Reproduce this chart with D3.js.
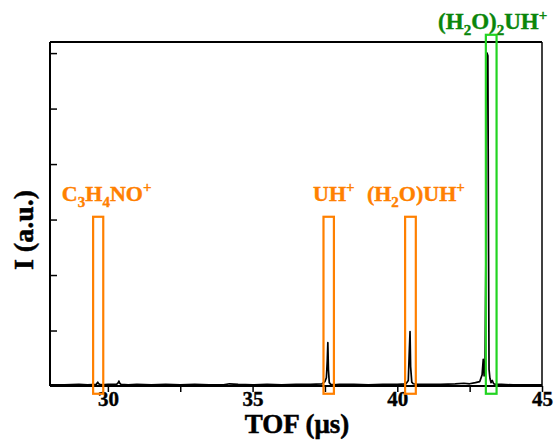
<!DOCTYPE html>
<html>
<head>
<meta charset="utf-8">
<script src="https://cdn.jsdelivr.net/npm/d3@7"></script>
<style>
  body { margin: 0; background: #fff; }
  svg { display: block; }
  text { font-family: "Liberation Serif", serif; font-weight: bold; }
</style>
</head>
<body>
<svg id="chart" width="556" height="447"></svg>
<script>
// ---- data ----
const tof = [28.0, 28.5, 29.0, 29.3, 29.6, 29.65, 29.68, 29.72, 29.8, 30.0, 30.3, 30.36, 30.38, 30.41, 30.45, 30.7,
  31.0, 31.5, 32.0, 32.5, 33.0, 33.5, 34.0, 34.2, 34.5, 35.0, 35.5, 36.0, 36.5, 37.0, 37.4, 37.5, 37.55,
  37.58, 37.6, 37.62, 37.65, 37.7, 37.8, 38.0, 38.5, 39.0, 39.5, 40.0, 40.3, 40.38, 40.41, 40.44, 40.46,
  40.5, 40.55, 40.7, 41.0, 41.5, 42.0, 42.3, 42.5, 42.7, 42.85, 42.93, 42.97, 43.0, 43.03, 43.06, 43.08,
  43.1, 43.13, 43.15, 43.17, 43.2, 43.24, 43.28, 43.33, 43.4, 43.6, 44.0, 44.5, 45.0];
const intensity = [0.02, 0.02, 0.03, 0.02, 0.03, 0.07, 0.04, 0.03, 0.02, 0.03, 0.03, 0.06, 0.09, 0.05, 0.03, 0.02,
  0.03, 0.02, 0.03, 0.02, 0.03, 0.02, 0.02, 0.04, 0.03, 0.02, 0.03, 0.02, 0.03, 0.03, 0.04, 0.08, 0.15,
  0.45, 0.78, 0.3, 0.06, 0.03, 0.02, 0.03, 0.03, 0.02, 0.03, 0.03, 0.04, 0.10, 0.55, 0.98, 0.35,
  0.07, 0.04, 0.03, 0.03, 0.03, 0.04, 0.05, 0.04, 0.06, 0.08, 0.20, 0.48, 0.18, 0.30, 2.2, 6.01,
  6.0, 5.95, 2.8, 0.30, 0.14, 0.06, 0.10, 0.04, 0.03, 0.03, 0.02, 0.02, 0.02];

const xDomain = [28, 45];
const yDomain = [0, 6.2];
const xTicks = [30, 32.5, 35, 37.5, 40, 42.5, 45];
const xTickLabels = [30, 35, 40, 45];
const yTicks = [1, 2, 3, 4, 5, 6];

// annotation boxes: [tofStart, tofEnd], [intensityBottom, intensityTop]
const boxNames = ["C3H4NO+", "UH+", "(H2O)UH+", "(H2O)2UH+"];
const boxTof = [[29.49, 29.84], [37.45, 37.81], [40.27, 40.64], [43.06, 43.43]];
const boxIntensity = [[-0.14, 3.05], [-0.14, 3.05], [-0.14, 3.05], [-0.14, 6.33]];
const boxKind = ["orange", "orange", "orange", "green"];
// label start positions (tof) and heights (intensity units)
const labelTof = [28.41, 37.09, 38.95, 41.41];
const labelIntensity = [3.33, 3.33, 3.33, 6.43];
// label pieces: [text, kind] where kind: n normal, b sub, p sup
const labelParts = [
  [["C", "n"], ["3", "b"], ["H", "n"], ["4", "b"], ["NO", "n"], ["+", "p"]],
  [["UH", "n"], ["+", "p"]],
  [["(H", "n"], ["2", "b"], ["O)UH", "n"], ["+", "p"]],
  [["(H", "n"], ["2", "b"], ["O)", "n"], ["2", "b"], ["UH", "n"], ["+", "p"]]
];

// ---- drawing ----
const svg = d3.select("#chart");
const L = 50, R = 542, T = 42, B = 386;
const x = d3.scaleLinear().domain(xDomain).range([L, R]);
const y = d3.scaleLinear().domain(yDomain).range([B, T]);

const colors = {
  orange: { box: "#ff8000", text: "#ff8000" },
  green: { box: "#22d422", text: "#0a860a" }
};

// spectrum
const pts = tof.map((t, i) => [t, intensity[i]]);
svg.append("path")
  .datum(pts)
  .attr("fill", "none")
  .attr("stroke", "#000")
  .attr("stroke-width", 1.7)
  .attr("stroke-linejoin", "round")
  .attr("d", d3.line().x(d => x(d[0])).y(d => y(d[1])));

// frame top & right
svg.append("line").attr("x1", L).attr("x2", R).attr("y1", T).attr("y2", T)
  .attr("stroke", "#000").attr("stroke-width", 2);
svg.append("line").attr("x1", R).attr("x2", R).attr("y1", T).attr("y2", B)
  .attr("stroke", "#000").attr("stroke-width", 1.5);

// x axis
const xAxis = d3.axisBottom(x).tickValues(xTicks).tickSize(6).tickSizeOuter(0)
  .tickFormat(d => xTickLabels.includes(d) ? d : "");
const gx = svg.append("g").attr("transform", `translate(0,${B})`).call(xAxis);
gx.select(".domain").attr("stroke-width", 2).attr("d", `M${L},0H${R}`);
gx.selectAll(".tick line").attr("stroke-width", 1.5);
gx.selectAll(".tick text").attr("font-size", 21).attr("fill", "#000")
  .attr("stroke", "#000").attr("stroke-width", 0.4)
  .attr("font-family", "Liberation Serif").attr("font-weight", "bold").attr("dy", "0.6em").attr("y", 7);

// y axis (inward ticks, no labels)
const yAxis = d3.axisLeft(y).tickValues(yTicks).tickSize(-7).tickSizeOuter(0).tickFormat("");
const gy = svg.append("g").attr("transform", `translate(${L},0)`).call(yAxis);
gy.select(".domain").attr("stroke-width", 2).attr("d", `M0,${B}V${T}`);
gy.selectAll(".tick line").attr("stroke-width", 1.5);

// boxes
boxTof.forEach((bt, i) => {
  const c = colors[boxKind[i]];
  svg.append("rect")
    .attr("x", x(bt[0])).attr("width", x(bt[1]) - x(bt[0]))
    .attr("y", y(boxIntensity[i][1])).attr("height", y(boxIntensity[i][0]) - y(boxIntensity[i][1]))
    .attr("fill", "none").attr("stroke", c.box).attr("stroke-width", 2.2);
});

// labels
labelParts.forEach((parts, i) => {
  const c = colors[boxKind[i]];
  const t = svg.append("text")
    .attr("x", x(labelTof[i])).attr("y", y(labelIntensity[i]))
    .attr("font-size", i === 3 ? 23 : 22).attr("fill", c.text)
    .attr("stroke", c.text).attr("stroke-width", 0.4);
  let prev = "n";
  parts.forEach(([s, k]) => {
    const ts = t.append("tspan").text(s);
    const off = { n: 0, b: 6, p: -9 };
    ts.attr("dy", off[k] - off[prev]);
    if (k !== "n") ts.attr("font-size", 15);
    prev = k;
  });
});

// axis titles
svg.append("text").attr("x", 297).attr("y", 433).attr("text-anchor", "middle")
  .attr("stroke", "#000").attr("stroke-width", 0.5)
  .attr("font-size", 27).text("TOF (μs)");
svg.append("text").attr("transform", "translate(33,230) rotate(-90)").attr("text-anchor", "middle")
  .attr("stroke", "#000").attr("stroke-width", 0.5)
  .attr("font-size", 28).text("I (a.u.)");
</script>
</body>
</html>
